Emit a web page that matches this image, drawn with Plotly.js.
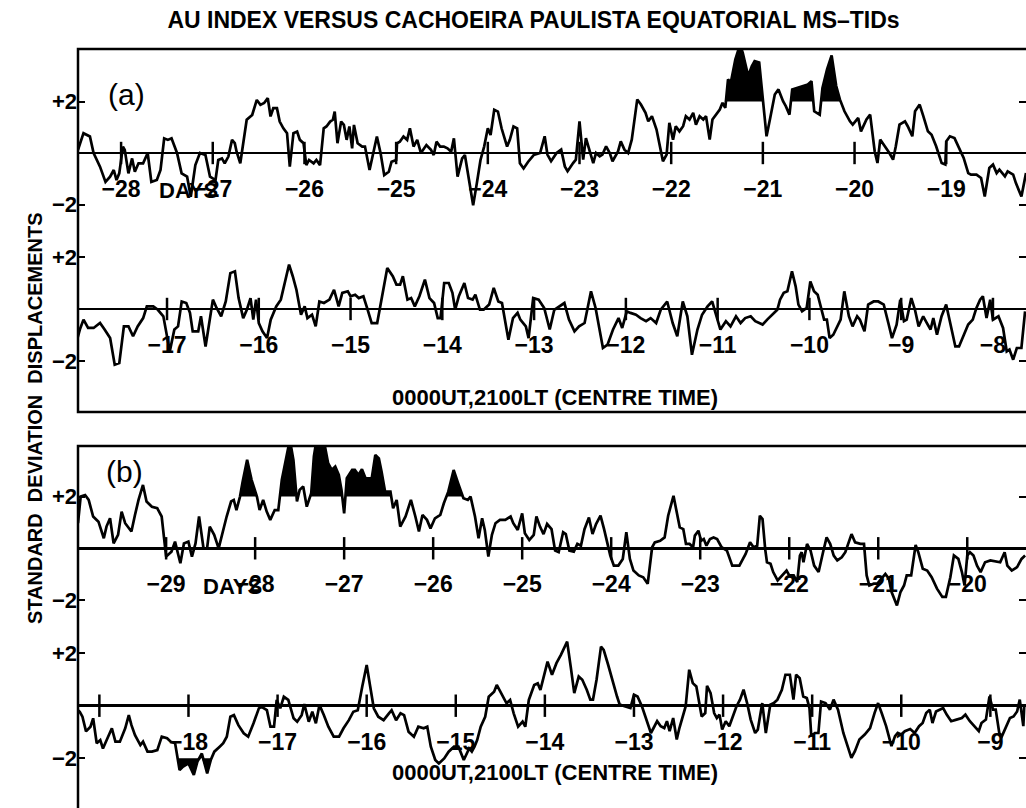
<!DOCTYPE html>
<html><head><meta charset="utf-8">
<script src="https://cdn.plot.ly/plotly-3.0.1.min.js"></script>
<style>html,body{margin:0;padding:0;background:#fff}#chart{width:1026px;height:808px}</style>
</head><body><div id="chart"></div>
<script>
// ---------- DATA (days relative to event, standard-deviation displacement) ----------
const aUpperDays = [
-28.47,-28.41,-28.34,-28.30,-28.23,-28.17,-28.12,-28.08,-28.05,-28.02,
-27.98,-27.96,-27.92,-27.88,-27.85,-27.81,-27.76,-27.71,-27.67,-27.61,
-27.57,-27.53,-27.49,-27.45,-27.39,-27.34,-27.28,-27.24,-27.19,-27.14,
-27.08,-27.03,-26.97,-26.94,-26.90,-26.87,-26.83,-26.79,-26.76,-26.74,
-26.70,-26.67,-26.63,-26.57,-26.52,-26.48,-26.44,-26.40,-26.37,-26.34,
-26.30,-26.27,-26.23,-26.19,-26.16,-26.12,-26.08,-26.05,-26.01,-25.98,
-25.95,-25.90,-25.87,-25.83,-25.79,-25.76,-25.72,-25.69,-25.67,-25.64,
-25.60,-25.57,-25.54,-25.51,-25.48,-25.46,-25.42,-25.37,-25.34,-25.29,
-25.25,-25.21,-25.17,-25.13,-25.08,-25.05,-25.00,-24.99,-24.96,-24.92,
-24.88,-24.85,-24.81,-24.77,-24.73,-24.69,-24.67,-24.62,-24.59,-24.56,
-24.52,-24.48,-24.44,-24.40,-24.37,-24.33,-24.28,-24.25,-24.21,-24.16,
-24.12,-24.08,-24.04,-24.00,-23.97,-23.93,-23.89,-23.85,-23.79,-23.76,
-23.72,-23.68,-23.65,-23.61,-23.56,-23.50,-23.43,
-23.38,-23.35,-23.31,-23.25,-23.20,-23.16,-23.13,-23.07,-23.04,-23.00,
-22.96,-22.93,-22.89,-22.85,-22.82,-22.78,-22.75,-22.71,-22.67,-22.64,
-22.58,-22.55,-22.51,-22.47,-22.43,-22.40,-22.37,-22.33,-22.28,-22.25,
-22.21,-22.16,-22.13,-22.09,-22.05,-22.02,-21.98,-21.95,-21.91,-21.87,
-21.84,-21.80,-21.76,-21.73,-21.69,-21.65,-21.62,-21.58,-21.55,-21.51,
-21.47,-21.44,-21.41,-21.38,-21.35,-21.30,-21.25,-21.22,-21.16,-21.12,
-21.09,-21.04,-21.00,-20.96,-20.92,-20.87,-20.83,-20.78,-20.75,-20.71,
-20.68,-20.62,-20.55,-20.51,-20.47,-20.44,-20.38,-20.35,-20.30,-20.25,
-20.20,-20.16,-20.11,-20.05,-20.02,-19.96,-19.93,-19.87,-19.83,-19.78,
-19.75,-19.72,-19.67,-19.62,-19.58,-19.55,-19.51,-19.45,-19.42,-19.37,
-19.34,-19.29,-19.25,-19.20,-19.16,-19.11,-19.05,-19.01,-19.00,-18.96,
-18.91,-18.85,-18.81,-18.76,-18.73,-18.67,-18.62,-18.58,-18.53,-18.49,
-18.45,-18.42,-18.36,-18.33,-18.27,-18.24,-18.18,-18.13];
const aUpperVals = [
0.12,0.77,0.64,0.00,-0.53,-1.12,-0.92,-0.66,-1.05,-0.79,
0.25,0.12,-0.79,-0.21,-0.73,-0.40,-0.40,0.00,-1.12,-1.05,
-0.66,0.57,0.51,0.57,0.00,-0.79,-0.92,-1.70,-0.47,0.00,
-0.08,-0.92,-1.05,-0.27,-0.21,-0.40,-0.14,0.51,0.38,0.05,
-0.40,0.38,1.29,1.48,2.06,1.87,1.94,2.13,1.42,1.74,
1.74,1.22,0.96,0.77,-0.53,0.77,0.83,0.51,0.38,-0.47,
-0.27,-0.40,-0.27,-0.47,0.96,1.03,1.22,1.29,1.61,0.38,
1.22,1.09,0.51,1.03,0.18,1.09,0.38,0.25,0.25,-0.66,
0.00,0.64,0.00,-0.86,-0.73,-0.34,-0.27,0.38,0.44,0.64,
0.51,0.96,0.25,0.51,0.00,0.18,0.31,0.12,-0.08,0.44,
0.25,0.25,0.18,0.05,0.57,-0.92,-0.21,-0.08,-0.92,-2.03,
-1.18,-0.27,0.25,0.96,0.70,1.68,1.61,0.96,0.25,0.51,
1.03,0.96,-0.40,-0.60,-0.34,-0.08,0.00,
0.65,-0.06,-0.32,0.00,0.13,-0.52,-0.71,-0.39,-0.26,1.23,
-0.26,0.58,0.13,-0.39,0.00,-0.13,-0.06,0.26,0.00,-0.32,
0.06,0.45,0.13,0.00,0.52,1.30,2.08,1.88,1.56,1.23,
1.43,0.91,0.39,-0.32,-0.06,1.17,0.52,1.04,0.84,1.04,
1.43,1.30,1.56,1.10,1.43,1.30,1.43,0.52,1.30,1.49,
1.69,1.95,1.75,2.86,2.73,3.64,4.20,3.90,2.99,3.38,
3.57,3.51,2.21,0.65,1.36,2.27,2.47,2.01,1.82,1.49,
2.47,2.53,2.60,2.66,2.79,1.62,1.49,2.53,3.25,3.79,
2.60,2.08,1.62,1.23,1.10,1.36,0.84,1.30,1.49,0.06,
-0.39,0.52,0.26,0.00,-0.26,0.26,1.10,1.23,1.04,0.65,
1.62,1.88,1.43,0.84,0.71,0.26,-0.39,-0.45,0.45,0.65,
0.58,0.13,-0.19,-0.78,-0.84,-0.84,-0.97,-1.69,-0.58,-0.45,
-0.78,-0.65,-0.91,-0.71,-0.84,-1.17,-1.69,-0.78];

const aLowerDays = [
-17.99,-17.95,-17.91,-17.86,-17.80,-17.73,-17.68,-17.62,-17.57,-17.52,
-17.47,-17.42,-17.37,-17.32,-17.26,-17.22,-17.15,-17.10,-17.04,-16.97,
-16.92,-16.88,-16.84,-16.79,-16.75,-16.72,-16.66,-16.63,-16.58,-16.54,
-16.50,-16.46,-16.41,-16.36,-16.31,-16.26,-16.22,-16.17,-16.13,-16.09,
-16.06,-16.03,-16.00,-15.96,-15.91,-15.87,-15.81,-15.76,-15.72,-15.67,
-15.63,-15.59,-15.54,-15.50,-15.47,-15.42,-15.38,-15.34,-15.29,-15.23,
-15.18,-15.13,-15.09,-15.03,-15.00,-14.95,-14.91,-14.86,-14.82,-14.77,
-14.71,-14.65,-14.60,-14.54,-14.50,-14.46,-14.43,-14.38,-14.34,-14.30,
-14.25,-14.19,-14.14,-14.09,-14.05,-14.02,-13.98,-13.93,-13.89,-13.86,
-13.82,-13.76,-13.72,-13.67,-13.64,-13.59,-13.55,-13.49,-13.44,-13.39,
-13.35,-13.28,-13.23,-13.18,-13.15,-13.09,-13.06,-13.01,-12.95,
-12.89,-12.83,-12.78,-12.72,-12.67,-12.62,-12.56,-12.51,-12.45,-12.38,
-12.33,-12.25,-12.20,-12.14,-12.08,-12.04,-11.99,-11.95,-11.89,-11.84,
-11.78,-11.73,-11.67,-11.62,-11.55,-11.49,-11.44,-11.38,-11.33,-11.28,
-11.22,-11.17,-11.11,-11.06,-11.02,-10.97,-10.91,-10.86,-10.80,-10.75,
-10.70,-10.64,-10.59,-10.51,-10.46,-10.41,-10.35,-10.32,-10.28,-10.24,
-10.19,-10.15,-10.12,-10.08,-10.03,-9.99,-9.95,-9.91,-9.88,-9.84,
-9.81,-9.78,-9.74,-9.70,-9.66,-9.62,-9.57,-9.53,-9.48,-9.45,
-9.40,-9.36,-9.30,-9.25,-9.19,-9.14,-9.10,-9.05,-9.01,-8.97,
-8.94,-8.89,-8.85,-8.81,-8.76,-8.72,-8.68,-8.65,-8.61,-8.56,
-8.51,-8.47,-8.41,-8.37,-8.32,-8.27,-8.22,-8.18,-8.14,-8.11,
-8.07,-8.03,-8.00,-7.94,-7.89,-7.85,-7.82,-7.78,-7.74,-7.69,
-7.65];
const aLowerVals = [
-1.31,-0.79,-0.41,-0.73,-0.73,-0.54,-0.79,-1.12,-2.14,-2.08,
-0.67,-0.67,-1.05,-0.67,-0.35,0.10,0.10,-0.03,-0.28,-1.63,
-0.79,-0.67,0.29,0.23,-0.15,-0.86,-0.86,-0.28,-1.44,-0.47,
0.36,0.04,-0.28,0.29,1.38,1.45,0.42,-0.35,-0.03,0.42,
-0.41,0.36,-0.54,-0.86,-1.12,-0.41,0.10,0.36,1.00,1.71,
1.26,0.74,-0.22,0.10,-0.35,-0.22,-0.67,0.29,0.23,0.36,
0.74,0.10,0.62,0.68,0.49,0.55,0.42,0.49,0.04,-0.54,
-0.54,0.55,1.58,1.26,0.94,0.94,1.26,0.36,0.42,0.10,
0.49,1.13,0.42,0.23,-0.35,-0.35,1.00,1.00,0.62,-0.03,
0.49,1.00,0.42,0.36,0.55,-0.03,-0.03,0.17,0.81,0.29,
0.23,-1.18,-0.35,-0.15,-0.41,-0.67,-1.12,0.42,0.36,
0.04,-0.79,-0.03,0.10,0.23,-0.41,-0.86,-0.67,-0.54,0.68,
0.04,-1.50,-1.37,-0.79,-0.35,-0.73,-0.09,-0.15,-0.22,-0.35,
-0.47,-0.35,-0.54,-0.03,0.29,-0.54,-1.05,0.29,-0.28,-1.76,
-0.79,-0.22,0.10,0.29,-0.15,-0.79,-0.47,-0.67,-0.28,-0.54,
-0.35,-0.28,-0.47,-0.60,-0.41,-0.22,-0.03,0.36,0.62,0.68,
1.45,0.87,0.17,-0.09,0.04,1.06,0.68,0.55,0.10,-0.41,
-0.41,-1.12,-0.99,-0.73,-0.41,0.68,-0.28,-0.67,-0.28,-0.41,
-0.86,0.17,0.29,0.29,0.17,-0.54,-1.12,-0.60,0.36,-0.47,
-0.41,0.42,-0.03,-0.67,-0.28,-0.54,-0.79,-0.35,-0.99,-0.28,
0.17,-0.47,-1.44,-1.44,-0.99,-0.60,-0.41,0.04,0.36,0.49,
-0.35,0.36,-0.41,-0.28,-0.73,-1.63,-1.56,-1.95,-1.50,-1.50,
-0.09];

const bUpperDays = [
-29.99,-29.96,-29.91,-29.87,-29.82,-29.76,-29.70,-29.67,-29.63,-29.59,
-29.54,-29.50,-29.46,-29.42,-29.39,-29.35,-29.31,-29.26,-29.22,-29.16,
-29.10,-29.05,-29.00,-28.94,-28.90,-28.84,-28.80,-28.75,-28.71,-28.67,
-28.63,-28.58,-28.54,-28.51,-28.46,-28.41,-28.37,-28.32,-28.27,-28.24,
-28.21,-28.17,-28.14,-28.09,-28.04,-27.98,-27.95,-27.91,-27.87,-27.83,
-27.78,-27.74,-27.70,-27.65,-27.61,-27.57,-27.53,-27.50,-27.46,-27.42,
-27.37,-27.34,-27.31,-27.23,-27.18,-27.14,-27.10,-27.06,-27.03,-27.00,
-26.97,-26.91,-26.88,-26.84,-26.80,-26.76,-26.69,-26.65,-26.61,-26.58,
-26.54,-26.48,-26.45,-26.41,-26.37,-26.31,-26.25,-26.20,-26.16,-26.12,
-26.07,-26.03,-25.98,-25.92,-25.88,-25.83,-25.77,-25.72,-25.66,-25.61,
-25.58,-25.53,-25.49,-25.45,-25.42,-25.38,-25.34,-25.30,-25.25,-25.19,
-25.13,-25.10,-25.05,-25.00,-24.97,-24.92,-24.87,-24.84,-24.80,
-24.76,-24.72,-24.67,-24.63,-24.59,-24.54,-24.51,-24.47,-24.42,-24.38,
-24.34,-24.30,-24.25,-24.21,-24.17,-24.12,-24.08,-24.03,-24.01,-23.97,
-23.92,-23.87,-23.83,-23.79,-23.75,-23.69,-23.64,-23.59,-23.54,-23.51,
-23.45,-23.40,-23.36,-23.30,-23.26,-23.23,-23.19,-23.16,-23.12,-23.08,
-23.06,-23.02,-22.99,-22.96,-22.93,-22.89,-22.85,-22.81,-22.76,-22.70,
-22.64,-22.56,-22.49,-22.44,-22.40,-22.36,-22.33,-22.30,-22.27,-22.25,
-22.21,-22.18,-22.13,-22.08,-22.03,-22.00,-21.95,-21.91,-21.88,-21.86,
-21.84,-21.80,-21.76,-21.72,-21.67,-21.62,-21.58,-21.54,-21.50,-21.46,
-21.41,-21.37,-21.33,-21.30,-21.26,-21.20,-21.16,-21.13,-21.10,-21.05,
-21.01,-20.96,-20.92,-20.88,-20.85,-20.79,-20.75,-20.71,-20.68,-20.63,
-20.58,-20.55,-20.50,-20.45,-20.40,-20.34,-20.28,-20.24,-20.19,-20.15,
-20.10,-20.06,-20.03,-20.00,-19.97,-19.93,-19.89,-19.85,-19.80,-19.74,
-19.69,-19.63,-19.58,-19.55,-19.50,-19.44,-19.39,-19.35];
const bUpperVals = [
0.97,2.00,2.06,1.87,1.23,1.03,0.39,0.84,1.16,0.19,
0.52,1.42,0.97,0.77,0.65,1.29,1.87,2.45,1.81,1.61,
1.55,1.23,-0.32,-0.13,0.26,-0.58,0.19,0.26,-0.32,0.19,
1.23,0.00,0.00,0.84,0.52,0.00,0.58,1.23,1.81,1.87,
1.48,2.00,2.58,3.42,2.65,2.00,1.48,1.87,1.42,1.10,
1.48,1.48,2.65,3.55,4.20,3.42,1.81,2.26,2.39,1.61,
2.13,3.55,4.20,4.20,3.29,3.03,3.16,2.84,2.26,1.35,
2.71,3.03,3.03,2.84,3.06,2.71,2.71,3.61,3.48,2.97,
2.19,2.19,1.55,1.87,0.84,1.23,1.87,1.23,0.65,1.29,
1.10,0.77,1.16,1.29,1.74,2.19,3.03,2.52,1.94,1.87,
2.00,1.23,0.39,1.16,0.71,-0.32,0.52,0.97,1.10,1.10,
1.23,0.97,0.71,1.35,0.58,0.32,0.52,1.23,0.84,
0.55,0.94,0.74,-0.09,-0.15,0.62,0.55,-0.09,-0.13,0.17,
0.10,0.74,1.19,0.55,0.94,1.26,0.74,0.04,-0.28,-0.67,
-0.67,-0.41,0.62,-0.41,-0.86,-1.05,-1.12,-1.37,0.04,0.23,
0.29,0.42,1.26,2.03,1.38,0.81,0.74,0.17,0.17,0.04,
0.49,0.68,0.29,0.36,0.10,0.36,0.42,0.36,0.04,-0.09,
-0.67,-0.67,-0.22,0.23,0.04,0.10,1.26,1.13,-0.03,-0.54,
-0.60,-0.92,-1.24,-1.05,-0.86,-1.05,-1.05,-1.31,-0.28,-0.15,
-0.54,0.17,-0.09,-0.67,-0.92,-0.15,0.42,0.17,-0.28,-0.47,
-0.35,-0.15,0.23,0.55,0.23,0.17,0.17,-1.05,-1.44,-1.37,
-1.37,-1.18,-0.99,-1.18,-1.69,-2.21,-1.69,-1.44,-1.05,-1.05,
0.13,-0.15,-0.79,-0.86,-1.12,-1.56,-1.88,-1.88,-1.12,-0.28,
-0.41,-0.92,-1.44,-0.28,-0.15,-0.28,-0.67,-0.92,-0.54,-0.47,
-0.51,-0.54,-0.15,-0.67,-0.86,-0.73,-0.41,-0.28];

const bLowerDays = [
-19.24,-19.22,-19.19,-19.15,-19.10,-19.07,-19.03,-18.99,-18.96,-18.92,
-18.86,-18.82,-18.77,-18.71,-18.67,-18.64,-18.60,-18.54,-18.51,-18.46,
-18.41,-18.35,-18.30,-18.24,-18.20,-18.15,-18.10,-18.06,-18.00,-17.94,
-17.90,-17.85,-17.79,-17.75,-17.71,-17.65,-17.61,-17.57,-17.53,-17.49,
-17.44,-17.38,-17.33,-17.27,-17.21,-17.18,-17.12,-17.08,-17.04,-17.01,
-16.97,-16.93,-16.88,-16.82,-16.78,-16.73,-16.70,-16.65,-16.61,-16.57,
-16.53,-16.48,-16.43,-16.37,-16.31,-16.26,-16.20,-16.15,-16.10,-16.05,
-16.00,-15.96,-15.92,-15.87,-15.81,-15.75,-15.72,-15.67,-15.62,-15.58,
-15.53,-15.47,-15.42,-15.36,-15.32,-15.28,-15.23,-15.19,-15.13,-15.08,
-15.02,-14.97,-14.91,-14.85,-14.82,-14.79,-14.76,-14.72,-14.67,-14.63,
-14.57,-14.54,-14.48,-14.43,-14.39,-14.35,-14.30,-14.25,-14.22,-14.18,
-14.12,-14.08,-14.05,
-13.97,-13.92,-13.87,-13.82,-13.79,-13.75,-13.71,-13.67,-13.62,-13.58,
-13.53,-13.49,-13.46,-13.42,-13.37,-13.34,-13.29,-13.24,-13.19,-13.16,
-13.10,-13.04,-13.00,-12.96,-12.91,-12.87,-12.81,-12.78,-12.74,-12.70,
-12.66,-12.63,-12.60,-12.56,-12.52,-12.49,-12.45,-12.42,-12.38,-12.34,
-12.30,-12.24,-12.20,-12.18,-12.14,-12.10,-12.07,-12.04,-12.01,-11.97,
-11.93,-11.89,-11.85,-11.81,-11.77,-11.73,-11.69,-11.64,-11.61,-11.56,
-11.52,-11.47,-11.43,-11.39,-11.34,-11.30,-11.25,-11.21,-11.18,-11.14,
-11.10,-11.06,-11.03,-11.01,-10.97,-10.93,-10.90,-10.85,-10.80,-10.76,
-10.71,-10.65,-10.60,-10.56,-10.52,-10.47,-10.41,-10.35,-10.30,-10.26,
-10.22,-10.17,-10.11,-10.07,-10.04,-10.00,-9.96,-9.90,-9.85,-9.80,
-9.76,-9.72,-9.68,-9.65,-9.61,-9.57,-9.53,-9.49,-9.44,-9.38,
-9.32,-9.28,-9.23,-9.18,-9.13,-9.10,-9.05,-9.01,-8.97,-8.94,
-8.90,-8.87,-8.82,-8.78,-8.74,-8.70,-8.67,-8.63,-8.62];
const bLowerVals = [
-0.17,-0.23,-0.42,-0.98,-0.80,-0.48,-1.43,-1.31,-1.63,-1.31,
-0.86,-1.37,-1.37,-0.86,-0.36,-0.74,-1.12,-1.50,-1.37,-1.75,
-1.75,-1.69,-1.18,-1.24,-1.37,-1.43,-2.45,-2.32,-2.20,-2.64,
-2.13,-1.82,-2.58,-2.07,-1.75,-1.56,-1.43,-1.18,-0.42,-0.36,
-0.74,-1.05,-1.18,-0.67,-0.10,-0.04,-0.17,-0.80,-0.80,0.22,
-0.10,0.34,0.22,-0.48,-0.61,-0.36,0.06,-0.61,-0.23,-0.67,
0.03,-0.36,-0.80,-1.18,-1.18,-0.86,-0.55,-0.23,-0.17,0.72,
1.55,0.72,-0.10,-0.42,-0.55,-0.29,-0.17,-0.55,-0.29,-0.36,
-0.99,-1.18,-0.80,-0.86,-0.80,-1.56,-2.07,-2.20,-2.01,-1.75,
-1.56,-1.56,-2.07,-1.63,-1.75,-1.56,-1.31,-0.80,-0.42,0.34,
0.53,0.79,0.41,0.09,0.22,-0.29,-0.80,-0.61,-0.80,0.22,
0.79,0.85,0.60,
1.68,1.18,1.62,1.94,2.13,2.44,1.49,0.48,1.11,0.99,
0.61,0.23,0.23,0.99,2.25,2.13,1.56,0.92,0.35,0.04,
-0.03,-0.09,0.42,0.35,-0.03,-0.41,-1.04,-0.85,-0.59,-0.78,
-0.85,-0.59,-0.97,-0.47,-1.29,-0.85,-0.41,-0.03,1.37,0.86,
0.73,-0.41,-0.28,0.76,0.48,-0.28,-0.47,-0.34,-0.91,-0.59,
-0.78,-0.41,-0.03,0.23,0.61,0.10,-0.53,-1.04,-0.91,0.10,
-1.04,0.04,0.10,0.23,0.61,1.18,1.18,0.23,1.18,1.05,
0.35,0.29,-0.09,-1.16,-1.04,-1.04,0.16,0.10,-0.15,0.23,
-0.15,-1.04,-1.54,-1.99,-1.73,-1.29,-1.10,-0.85,-0.28,0.10,
-0.28,-0.78,-1.54,-1.16,-1.04,-1.10,-0.97,-0.89,-1.04,-0.78,
-0.66,-0.28,-0.15,-0.66,-0.22,-0.15,-0.09,-0.34,-0.59,-0.53,
-0.47,-0.34,-0.59,-0.78,-0.97,-0.66,-0.53,0.35,-0.15,-0.15,
-1.04,-1.16,-0.78,-0.47,-0.41,-0.22,0.23,-0.78,-0.03];

// day ticks on the zero line, and the labelled days
const aUpperTickDays = [-28,-27,-26,-25,-24,-23,-22,-21,-20,-19];
const aUpperLabels   = ['−28','−27','−26','−25','−24','−23','−22','−21','−20','−19'];
const aLowerTickDays = [-17,-16,-15,-14,-13,-12,-11,-10,-9,-8];
const aLowerLabels   = ['−17','−16','−15','−14','−13','−12','−11','−10','−9','−8'];
const bUpperTickDays = [-29,-28,-27,-26,-25,-24,-23,-22,-21,-20];
const bUpperLabels   = ['−29','−28','−27','−26','−25','−24','−23','−22','−21','−20'];
const bLowerTickDays = [-19,-18,-17,-16,-15,-14,-13,-12,-11,-10,-9];
const bLowerLabelDays = [-18,-17,-16,-15,-14,-13,-12,-11,-10,-9];
const bLowerLabels   = ['−18','−17','−16','−15','−14','−13','−12','−11','−10','−9'];

// shaded (storm) intervals, in days, and the level they are shaded from
const aUpperShaded = [[-21.40,-20.99],[-20.70,-20.455],[-20.36,-20.15]];
const aLowerShaded = [];
const bUpperShaded = [[-28.17,-27.98],[-27.72,-27.545],[-27.38,-27.02],[-26.99,-26.47],[-25.855,-25.67]];
const bLowerShaded = [[-18.11,-17.74]];
const yTickVals = [-2, 2];
const yTickText = ['−2', '+2'];

// ---------- LAYOUT ----------
const W = 1026, H = 808;
const FONT = 'Liberation Sans, Arial, Helvetica, sans-serif';
const py = p => 1 - p / H;
const LABEL_Y = -1.47;

const rows = [
  {days:aUpperDays, vals:aUpperVals, ticks:aUpperTickDays, labDays:aUpperTickDays, labs:aUpperLabels,
   xr:[-28.47,-18.13], yr:[-3.029,4.039], top:49, bot:231, shaded:aUpperShaded, level:2},
  {days:aLowerDays, vals:aLowerVals, ticks:aLowerTickDays, labDays:aLowerTickDays, labs:aLowerLabels,
   xr:[-17.97,-7.64], yr:[-3.962,3.0], top:231, bot:412, shaded:aLowerShaded, level:2},
  {days:bUpperDays, vals:bUpperVals, ticks:bUpperTickDays, labDays:bUpperTickDays, labs:bUpperLabels,
   xr:[-29.99,-19.34], yr:[-3.083,3.957], top:446, bot:628, shaded:bUpperShaded, level:2},
  {days:bLowerDays, vals:bLowerVals, ticks:bLowerTickDays, labDays:bLowerLabelDays, labs:bLowerLabels,
   xr:[-19.24,-8.60], yr:[-3.897,2.96], top:628, bot:808, shaded:bLowerShaded, level:-2}
];

const traces = [];
const layout = {
  width: W, height: H, margin:{l:0,r:0,t:0,b:0,pad:0},
  paper_bgcolor:'#fff', plot_bgcolor:'rgba(0,0,0,0)', showlegend:false,
  font:{family:FONT, color:'#000'},
  title:{text:'AU INDEX VERSUS CACHOEIRA PAULISTA EQUATORIAL MS–TIDs',
    x:0.52, xanchor:'center', y:py(20), yanchor:'middle',
    font:{family:FONT, size:23, weight:'bold', color:'#000'}},
  annotations:[], shapes:[]
};

rows.forEach((r, i) => {
  const sfx = i === 0 ? '' : String(i + 1);
  const xa = 'x' + sfx, ya = 'y' + sfx;
  // shaded regions
  r.shaded.forEach(([a, b]) => {
    const xs = [a], ys = [r.level];
    r.days.forEach((d, k) => {
      if (d > a && d < b) {
        xs.push(d);
        ys.push(r.level > 0 ? Math.max(r.vals[k], r.level) : Math.min(r.vals[k], r.level));
      }
    });
    xs.push(b); ys.push(r.level);
    traces.push({type:'scatter', mode:'lines', x:xs, y:ys, xaxis:xa, yaxis:ya,
      fill:'toself', fillcolor:'#000', line:{width:0, color:'#000'}, hoverinfo:'skip'});
  });
  // the series
  traces.push({type:'scatter', mode:'lines', x:r.days, y:r.vals, xaxis:xa, yaxis:ya,
    line:{color:'#000', width:2.7}, hoverinfo:'x+y'});
  // day tick marks on the zero line
  traces.push({type:'scatter', mode:'markers', x:r.ticks, y:r.ticks.map(() => 0), xaxis:xa, yaxis:ya,
    marker:{symbol:'line-ns', size:16, color:'#000', line:{width:2.5, color:'#000'}},
    cliponaxis:false, hoverinfo:'skip'});
  // day labels
  traces.push({type:'scatter', mode:'text', x:r.labDays, y:r.labDays.map(() => LABEL_Y), text:r.labs,
    xaxis:xa, yaxis:ya, textposition:'middle center', cliponaxis:false,
    textfont:{family:FONT, size:23, weight:'bold', color:'#000'}, hoverinfo:'skip'});

  layout['xaxis' + sfx] = {domain:[78 / W, 1], range:r.xr, anchor:ya,
    showgrid:false, zeroline:false, showline:false, showticklabels:false, ticks:'', fixedrange:true};
  layout['yaxis' + sfx] = {domain:[py(r.bot), py(r.top)], range:r.yr, anchor:xa,
    showgrid:false, zeroline:true, zerolinecolor:'#000', zerolinewidth:2.5, showline:false,
    ticks:'inside', ticklen:7, tickwidth:2, tickcolor:'#000', mirror:'ticks',
    tickmode:'array', tickvals:yTickVals, ticktext:yTickText,
    tickfont:{family:FONT, size:22, weight:'bold', color:'#000'}, fixedrange:true};
});

// "DAYS" words next to the first labels
layout.annotations.push(
  {xref:'x', yref:'y', x:-27.26, y:LABEL_Y, text:'DAYS', showarrow:false,
   font:{family:FONT, size:22, weight:'bold', color:'#000'}},
  {xref:'x3', yref:'y3', x:-28.25, y:LABEL_Y, text:'DAYS', showarrow:false,
   font:{family:FONT, size:22, weight:'bold', color:'#000'}},
  {xref:'paper', yref:'paper', x:555 / W, y:py(397), text:'0000UT,2100LT (CENTRE TIME)', showarrow:false,
   font:{family:FONT, size:22, weight:'bold', color:'#000'}},
  {xref:'paper', yref:'paper', x:555 / W, y:py(787), text:'0000UT,2100LT (CENTRE TIME)', showarrow:false,
   font:{family:FONT, size:22, weight:'bold', color:'#000'}},
  {xref:'paper', yref:'paper', x:106 / W, y:py(76), text:'(a)', showarrow:false,
   font:{family:FONT, size:30, color:'#000'}},
  {xref:'paper', yref:'paper', x:104 / W, y:py(472), text:'(b)', showarrow:false,
   font:{family:FONT, size:30, color:'#000'}},
  {xref:'paper', yref:'paper', x:22 / W, y:py(418), text:'STANDARD  DEVIATION  DISPLACEMENTS',
   textangle:-90, showarrow:false, font:{family:FONT, size:20, weight:'bold', color:'#000'}}
);

// panel frames (right side runs off the page)
layout.shapes.push(
  {type:'rect', xref:'paper', yref:'paper', x0:78 / W, x1:1.05, y0:py(412), y1:py(49),
   line:{color:'#000', width:2.5}, fillcolor:'rgba(0,0,0,0)', layer:'above'},
  {type:'rect', xref:'paper', yref:'paper', x0:78 / W, x1:1.05, y0:-0.05, y1:py(446),
   line:{color:'#000', width:2.5}, fillcolor:'rgba(0,0,0,0)', layer:'above'}
);

Plotly.newPlot('chart', traces, layout, {displayModeBar:false, staticPlot:true});
</script>
</body></html>
